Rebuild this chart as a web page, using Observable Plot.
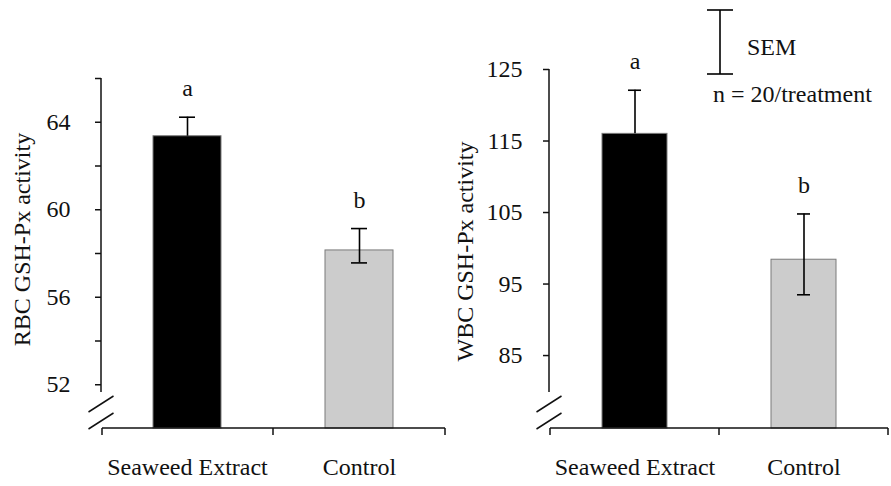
<!DOCTYPE html>
<html><head><meta charset="utf-8">
<script src="https://cdn.jsdelivr.net/npm/d3@7"></script>
<script src="https://cdn.jsdelivr.net/npm/@observablehq/plot@0.6"></script>
<style>
html,body{margin:0;padding:0;background:#fff;}
#wrap{position:relative;width:891px;height:486px;font-family:"Liberation Serif","Times New Roman",serif;}
#wrap > svg{position:absolute;top:0;}
#wrap svg text{font-family:"Liberation Serif","Times New Roman",serif;}
</style></head><body><div id="wrap"></div>
<script>
// ---- data ----
const groups = ["Seaweed Extract", "Control"];
const barFills = ["#000000", "#cccccc"];
const rbcMean = [63.36, 58.14];
const rbcUpper = [64.23, 59.14];
const rbcLower = [null, 57.57];   // lower whisker hidden inside black bar
const rbcLetters = ["a", "b"];
const rbcLabelTicks = [52, 56, 60, 64];
const rbcMinorTicks = [54, 58, 62, 66];
const wbcMean = [116.0, 98.4];
const wbcUpper = [122.1, 104.8];
const wbcLower = [null, 93.5];
const wbcLetters = ["a", "b"];
const wbcTicks = [85, 95, 105, 115, 125];

const FONT = '"Liberation Serif","Times New Roman",serif';
const FS = 24;
const INK = "#000";

function table(mean, upper, lower, letters) {
  return groups.map((g, i) => ({group: g, mean: mean[i], upper: upper[i], lower: lower[i], letter: letters[i]}));
}

// axis lines, x-axis ticks and axis-break marks
function decor(index, scales, values, dims) {
  const {marginLeft, marginRight, marginTop, marginBottom, width, height} = dims;
  const x0 = marginLeft, x1 = width - marginRight, yb = height - marginBottom;
  const g = d3.create("svg:g").attr("stroke", "#111").attr("stroke-width", 1.5).attr("fill", "none");
  g.append("line").attr("x1", x0).attr("x2", x0).attr("y1", marginTop).attr("y2", yb - 36);
  g.append("line").attr("x1", x0 + 1).attr("x2", x1).attr("y1", yb).attr("y2", yb);
  const xm = scales.x(groups[1]);
  for (const xt of [x0 + 1, xm, x1]) g.append("line").attr("x1", xt).attr("x2", xt).attr("y1", yb).attr("y2", yb + 7);
  for (const yc of [yb - 24, yb - 7]) {
    g.append("line").attr("x1", x0 - 12.5).attr("x2", x0 + 12.5).attr("y1", yc + 8).attr("y2", yc - 8);
  }
  return g.node();
}

function panel({data, domain, width, marginTop, majorTicks, minorTicks, tickPadding, ylabel, labelDx, labelDy}) {
  const marks = [
    Plot.barY(data, {x: "group", y1: domain[0], y2: "mean", fill: "group", stroke: "#7a7a7a", strokeWidth: 1, insetLeft: 52, insetRight: 52}),
    Plot.ruleX(data, {x: "group", y1: d => d.lower ?? d.mean, y2: "upper", stroke: INK, strokeWidth: 1.6}),
    Plot.tickY(data, {x: "group", y: "upper", stroke: INK, strokeWidth: 1.6, insetLeft: 78, insetRight: 78}),
    Plot.tickY(data.filter(d => d.lower != null), {x: "group", y: "lower", stroke: INK, strokeWidth: 1.6, insetLeft: 78, insetRight: 78}),
    Plot.text(data, {x: "group", y: "upper", text: "letter", dy: -21, lineAnchor: "bottom", fontSize: FS, fontFamily: FONT, fill: "#111"}),
    Plot.axisY({ticks: majorTicks, tickSize: 6, tickPadding: tickPadding, label: null, fontSize: FS, fontFamily: FONT, stroke: "#111", strokeWidth: 1.5, color: "#111"}),
    Plot.axisX({tickSize: 0, tickPadding: 29, label: null, fontSize: FS, fontFamily: FONT, color: "#111"}),
    Plot.text([ylabel], {frameAnchor: "left", textAnchor: "middle", rotate: -90, dx: labelDx, dy: labelDy, lineAnchor: "bottom", text: d => d, fontSize: FS, fontFamily: FONT, fill: "#111"}),
    decor
  ];
  if (minorTicks) marks.splice(6, 0, Plot.axisY({ticks: minorTicks, tickSize: 6, tickFormat: () => "", label: null, stroke: "#111", strokeWidth: 1.5}));
  return Plot.plot({
    width, height: 486,
    marginLeft: 101, marginRight: 3, marginTop, marginBottom: 58,
    x: {domain: groups, padding: 0},
    y: {domain},
    color: {domain: groups, range: barFills},
    style: {fontFamily: FONT, fontSize: FS + "px", background: "white", color: "#111", overflow: "visible"},
    marks
  });
}

const wrap = document.getElementById("wrap");
const left = panel({
  data: table(rbcMean, rbcUpper, rbcLower, rbcLetters),
  domain: [50, 66], width: 448, marginTop: 78,
  majorTicks: rbcLabelTicks, minorTicks: rbcMinorTicks, tickPadding: 25,
  ylabel: "RBC GSH-Px activity", labelDx: -72, labelDy: -14
});
left.style.left = "0px";
wrap.appendChild(left);

const right = panel({
  data: table(wbcMean, wbcUpper, wbcLower, wbcLetters),
  domain: [74.8, 125], width: 443, marginTop: 69,
  majorTicks: wbcTicks, minorTicks: null, tickPadding: 21,
  ylabel: "WBC GSH-Px activity", labelDx: -77, labelDy: 2.5
});
right.style.left = "448px";
wrap.appendChild(right);

// legend (SEM key)
const leg = d3.create("svg").attr("width", 891).attr("height", 486)
  .style("left", "0px").style("pointer-events", "none");
const lg = leg.append("g").attr("stroke", INK).attr("stroke-width", 1.6);
lg.append("line").attr("x1", 720).attr("x2", 720).attr("y1", 10).attr("y2", 74);
lg.append("line").attr("x1", 707).attr("x2", 733).attr("y1", 10).attr("y2", 10);
lg.append("line").attr("x1", 707).attr("x2", 733).attr("y1", 74).attr("y2", 74);
leg.append("text").attr("x", 747).attr("y", 55).attr("font-family", FONT).attr("font-size", FS).attr("fill", "#111").text("SEM");
leg.append("text").attr("x", 713).attr("y", 102).attr("font-family", FONT).attr("font-size", FS).attr("fill", "#111").text("n = 20/treatment");
wrap.appendChild(leg.node());
</script></body></html>
